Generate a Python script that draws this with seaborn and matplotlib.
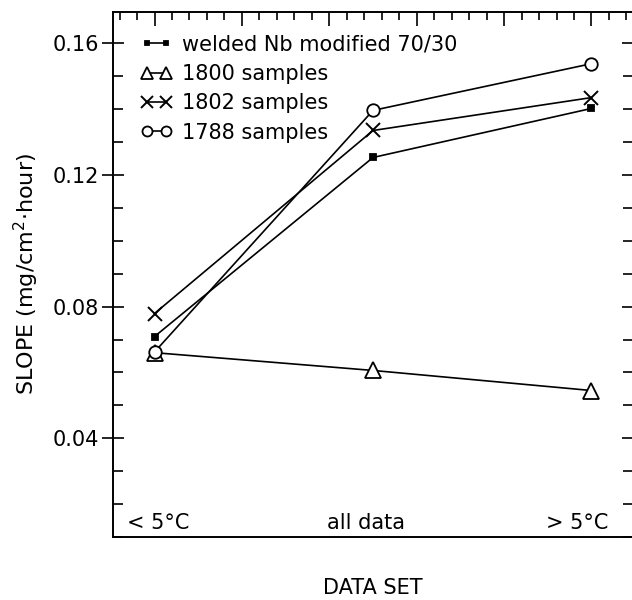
import numpy as np
import pandas as pd
import matplotlib
matplotlib.use("Agg")
import matplotlib.pyplot as plt
import seaborn as sns
from matplotlib.ticker import MultipleLocator

# data
categories = ["< 5°C", "all data", "> 5°C"]
welded = [0.0709, 0.1253, 0.1402]
s1800 = [0.0660, 0.0606, 0.0545]
s1802 = [0.0779, 0.1335, 0.1435]
s1788 = [0.0662, 0.1396, 0.1538]
series_names = ["welded Nb modified 70/30", "1800 samples", "1802 samples", "1788 samples"]

sns.set_theme(style="ticks")
plt.rcParams["font.family"] = ["DejaVu Sans"]
plt.rcParams["font.size"] = 15
plt.rcParams["text.color"] = "black"
plt.rcParams["axes.labelcolor"] = "black"
plt.rcParams["xtick.color"] = "black"
plt.rcParams["ytick.color"] = "black"

x = np.arange(len(categories))
rows = []
for name, vals in zip(series_names, [welded, s1800, s1802, s1788]):
    for xi, v in zip(x, vals):
        rows.append({"set": xi, "slope": v, "series": name})
df = pd.DataFrame(rows)

fig = plt.figure(figsize=(6.32, 6.0), dpi=100)
ax = fig.add_axes([113 / 632, 63 / 600, 520 / 632, 525 / 600])

styles = {
    "welded Nb modified 70/30": dict(marker="s", ms=4, mfc="black"),
    "1800 samples": dict(marker="^", ms=11, mfc="white"),
    "1802 samples": dict(marker="x", ms=10, mfc="black", mew=1.4),
    "1788 samples": dict(marker="o", ms=9, mfc="white"),
}

for name in series_names:
    sub = df[df["series"] == name]
    st = styles[name]
    sns.lineplot(data=sub, x="set", y="slope", ax=ax, color="black", lw=1.2,
                 marker=st["marker"], markersize=st["ms"], markerfacecolor=st["mfc"],
                 markeredgecolor="black", markeredgewidth=st.get("mew", 1.3),
                 label=name, legend=False)

ax.set_xlim(-0.19, 2.19)
ax.set_ylim(0.01, 0.1695)

# y ticks
ax.yaxis.set_major_locator(MultipleLocator(0.04))
ax.yaxis.set_minor_locator(MultipleLocator(0.01))
ax.set_yticks([0.04, 0.08, 0.12, 0.16])
ax.set_yticklabels(["0.04", "0.08", "0.12", "0.16"])
ax.tick_params(axis="y", which="major", direction="inout", length=16, width=1.2,
               left=True, right=True, labelsize=15, pad=2)
ax.tick_params(axis="y", which="minor", direction="in", length=7, width=1.2,
               left=True, right=True)

# x ticks only on top, none labelled
ax.xaxis.set_major_locator(MultipleLocator(0.4))
ax.xaxis.set_minor_locator(MultipleLocator(0.08))
ax.tick_params(axis="x", which="major", direction="in", length=10, width=1.2,
               top=True, bottom=False, labelbottom=False)
ax.tick_params(axis="x", which="minor", direction="in", length=6, width=1.2,
               top=True, bottom=False)

for sp in ax.spines.values():
    sp.set_linewidth(1.4)
    sp.set_color("black")
ax.spines["right"].set_visible(False)

# category labels inside the plot
offsets = [3, -5, -10]
for xi, lab, off in zip(x, categories, offsets):
    ax.annotate(lab, xy=(xi, 0.0), xycoords=("data", "axes fraction"),
                xytext=(off, 3), textcoords="offset points",
                ha="center", va="bottom", fontsize=15)

ax.set_xlabel("DATA SET", fontsize=15, labelpad=26)
ax.set_ylabel("SLOPE (mg/cm$^2$·hour)", fontsize=16, labelpad=8)

leg = ax.legend(loc="upper left", bbox_to_anchor=(0.025, 0.985), frameon=False,
                numpoints=2, handlelength=1.5, handletextpad=0.5,
                labelspacing=0.45, borderaxespad=0.3, fontsize=15,
                markerscale=0.8)

fig.savefig("out.png", dpi=100)
